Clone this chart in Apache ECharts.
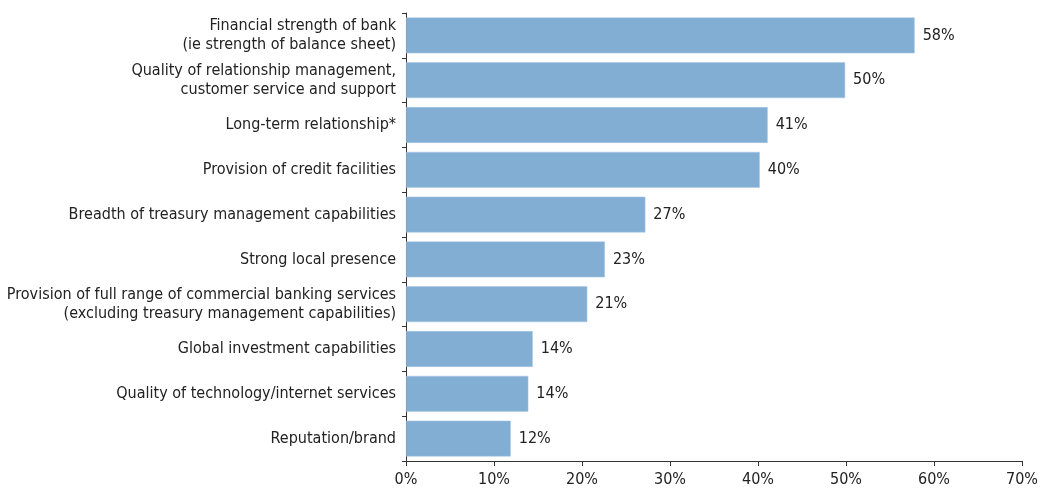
<!DOCTYPE html>
<html>
<head>
<meta charset="utf-8">
<script src="https://cdn.jsdelivr.net/npm/echarts@6/dist/echarts.min.js"></script>
<style>
  html, body { margin: 0; padding: 0; background: #fff; }
  #chart { width: 1043px; height: 488px; }
</style>
</head>
<body>
<div id="chart"></div>
<script>
// Factors listed top to bottom
const categories = [
  'Financial strength of bank\n(ie strength of balance sheet)',
  'Quality of relationship management,\ncustomer service and support',
  'Long-term relationship*',
  'Provision of credit facilities',
  'Breadth of treasury management capabilities',
  'Strong local presence',
  'Provision of full range of commercial banking services\n(excluding treasury management capabilities)',
  'Global investment capabilities',
  'Quality of technology/internet services',
  'Reputation/brand'
];
// Share of respondents, percent
const shares = [57.8, 49.9, 41.1, 40.2, 27.2, 22.6, 20.6, 14.4, 13.9, 11.9];
const axisTicks = [0, 10, 20, 30, 40, 50, 60, 70];

const FONT = '"DejaVu Sans Condensed", "DejaVu Sans", sans-serif';
const chart = echarts.init(document.getElementById('chart'));

chart.setOption({
  animation: false,
  grid: { left: 406, right: 21, top: 13, bottom: 26, containLabel: false },
  xAxis: {
    type: 'value',
    min: axisTicks[0],
    max: axisTicks[axisTicks.length - 1],
    interval: 10,
    splitLine: { show: false },
    axisLine: { show: true, lineStyle: { color: '#333', width: 1 } },
    axisTick: { show: true, length: 5, lineStyle: { color: '#333' } },
    axisLabel: {
      formatter: v => v + '%',
      color: '#222', fontFamily: FONT, fontSize: 16, margin: 11
    }
  },
  yAxis: {
    type: 'category',
    inverse: true,
    data: categories,
    axisLine: { show: true, lineStyle: { color: '#333', width: 1 } },
    axisTick: { show: true, length: 4, alignWithLabel: false, lineStyle: { color: '#333' } },
    axisLabel: {
      color: '#222', fontFamily: FONT, fontSize: 16, margin: 10,
      lineHeight: 19, align: 'right'
    }
  },
  series: [{
    type: 'bar',
    data: shares,
    barCategoryGap: '20%',
    itemStyle: { color: '#83aed4', borderColor: '#a9c7e2', borderWidth: 0.5 },
    label: {
      show: true,
      position: 'right',
      distance: 8,
      formatter: p => Math.round(p.value) + '%',
      color: '#222', fontFamily: FONT, fontSize: 16
    }
  }]
});
</script>
</body>
</html>
